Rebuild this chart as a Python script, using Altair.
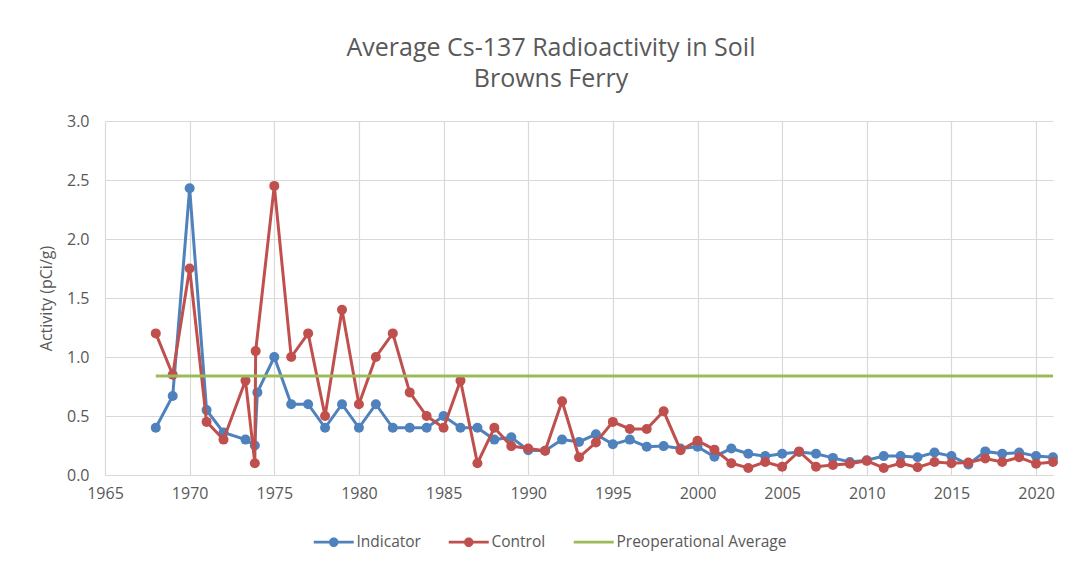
import altair as alt
import pandas as pd

# ---------------- data ----------------
series_names = ["Indicator", "Control", "Preoperational Average"]
series_colors = ["#4F81BD", "#C0504D", "#9BBB59"]

ind_years = [1968, 1969, 1970, 1971, 1972, 1973.3, 1973.85, 1974, 1975,
             1976, 1977, 1978, 1979, 1980, 1981, 1982, 1983, 1984, 1985,
             1986, 1987, 1988, 1989, 1990, 1991, 1992, 1993, 1994, 1995,
             1996, 1997, 1998, 1999, 2000, 2001, 2002, 2003, 2004, 2005,
             2006, 2007, 2008, 2009, 2010, 2011, 2012, 2013, 2014, 2015,
             2016, 2017, 2018, 2019, 2020, 2021]
ind_vals = [0.40, 0.67, 2.43, 0.55, 0.36, 0.30, 0.25, 0.70, 1.00,
            0.60, 0.60, 0.40, 0.60, 0.40, 0.60, 0.40, 0.40, 0.40, 0.50,
            0.40, 0.40, 0.30, 0.32, 0.21, 0.205, 0.30, 0.28, 0.345, 0.26,
            0.30, 0.24, 0.245, 0.225, 0.24, 0.155, 0.225, 0.18, 0.16, 0.18,
            0.195, 0.18, 0.145, 0.11, 0.125, 0.16, 0.16, 0.15, 0.19, 0.16,
            0.09, 0.20, 0.18, 0.19, 0.16, 0.15]

ctl_years = [1968, 1969, 1970, 1971, 1972, 1973.3, 1973.85, 1973.9, 1975,
             1976, 1977, 1978, 1979, 1980, 1981, 1982, 1983, 1984, 1985,
             1986, 1987, 1988, 1989, 1990, 1991, 1992, 1993, 1994, 1995,
             1996, 1997, 1998, 1999, 2000, 2001, 2002, 2003, 2004, 2005,
             2006, 2007, 2008, 2009, 2010, 2011, 2012, 2013, 2014, 2015,
             2016, 2017, 2018, 2019, 2020, 2021]
ctl_vals = [1.20, 0.85, 1.75, 0.45, 0.30, 0.80, 0.10, 1.05, 2.45,
            1.00, 1.20, 0.50, 1.40, 0.60, 1.00, 1.20, 0.70, 0.50, 0.40,
            0.80, 0.10, 0.40, 0.245, 0.225, 0.205, 0.625, 0.15, 0.275, 0.45,
            0.39, 0.39, 0.54, 0.21, 0.29, 0.215, 0.10, 0.06, 0.11, 0.07,
            0.20, 0.07, 0.085, 0.095, 0.12, 0.06, 0.10, 0.065, 0.11, 0.10,
            0.105, 0.14, 0.11, 0.15, 0.095, 0.11]

preop_years = [1968, 2021]
preop_vals = [0.84, 0.84]

x_ticks = [1965, 1970, 1975, 1980, 1985, 1990, 1995, 2000, 2005, 2010, 2015, 2020]
y_ticks = [0.0, 0.5, 1.0, 1.5, 2.0, 2.5, 3.0]

title_lines = ["Average Cs-137 Radioactivity in Soil", "Browns Ferry"]
y_title = "Activity (pCi/g)"

# ---------------- build tables ----------------
df = pd.concat([
    pd.DataFrame({"year": ind_years, "value": ind_vals, "series": "Indicator"}),
    pd.DataFrame({"year": ctl_years, "value": ctl_vals, "series": "Control"}),
    pd.DataFrame({"year": preop_years, "value": preop_vals, "series": "Preoperational Average"}),
], ignore_index=True)

FONT = "Open Sans"
TXT = "#595959"
GRID = "#D9D9D9"
COL = dict(zip(series_names, series_colors))

x_enc = alt.X("year:Q",
              scale=alt.Scale(domain=[1965, 2021], nice=False, zero=False),
              axis=alt.Axis(values=x_ticks, format="d", title=None, grid=True,
                            gridColor=GRID, gridWidth=1.2, ticks=False,
                            domainColor=GRID, domainWidth=1.2,
                            labelFont=FONT, labelFontSize=16, labelColor=TXT,
                            labelPadding=10, labelFlush=False))
y_enc = alt.Y("value:Q",
              scale=alt.Scale(domain=[0, 3], nice=False),
              axis=alt.Axis(values=y_ticks, format=".1f", title=y_title, grid=True,
                            gridColor=GRID, gridWidth=1.2, ticks=False, domain=False,
                            labelFont=FONT, labelFontSize=16, labelColor=TXT,
                            labelPadding=16,
                            titleFont=FONT, titleFontSize=16, titleColor=TXT,
                            titleFontWeight="normal", titlePadding=12))

base = alt.Chart(df)


def only(name):
    return base.transform_filter(alt.datum.series == name)


line_ind = only("Indicator").mark_line(strokeWidth=3, color=COL["Indicator"]).encode(x=x_enc, y=y_enc)
pts_ind = only("Indicator").mark_circle(size=100, opacity=1, color=COL["Indicator"]).encode(x=x_enc, y=y_enc)
line_ctl = only("Control").mark_line(strokeWidth=3, color=COL["Control"]).encode(x=x_enc, y=y_enc)
pts_ctl = only("Control").mark_circle(size=100, opacity=1, color=COL["Control"]).encode(x=x_enc, y=y_enc)
line_pre = only("Preoperational Average").mark_line(
    strokeWidth=3, color=COL["Preoperational Average"]).encode(x=x_enc, y=y_enc)

# legend symbols: a line with a marker, or a plain line
sym_marker = ("M-4,-0.28L4,-0.28L4,0.28L-4,0.28Z "
              "M-0.95,0A0.95,0.95,0,1,1,0.95,0A0.95,0.95,0,1,1,-0.95,0Z")
sym_line = "M-4,-0.28L4,-0.28L4,0.28L-4,0.28Z"

legend_props = dict(orient="none", legendX=207, legendY=413, direction="horizontal",
                    title=None, labelFont=FONT, labelFontSize=15.5, labelColor=TXT,
                    labelLimit=400,
                    symbolSize=100, symbolOffset=14, labelOffset=15, symbolStrokeWidth=0,
                    columnPadding=26, padding=0, symbolOpacity=1)

legend_layer = alt.Chart(pd.DataFrame({"series": series_names})).transform_filter(
    "false"
).mark_point(filled=True, opacity=1).encode(
    color=alt.Color("series:N", scale=alt.Scale(domain=series_names, range=series_colors),
                    legend=alt.Legend(**legend_props)),
    shape=alt.Shape("series:N",
                    scale=alt.Scale(domain=series_names, range=[sym_marker, sym_marker, sym_line]),
                    legend=alt.Legend(**legend_props)),
)

chart = alt.layer(line_ind, pts_ind, line_ctl, pts_ctl, line_pre, legend_layer).properties(
    width=948, height=354,
    title=alt.TitleParams(text=title_lines, font=FONT, fontSize=25, fontWeight="normal",
                          color=TXT, anchor="middle", dx=-28, offset=21, lineHeight=31),
    autosize=alt.AutoSizeParams(type="none"),
    padding={"left": 97, "top": 113, "right": 22, "bottom": 82},
).configure_view(stroke=None)

chart.save("out.html", embed_options={"renderer": "svg", "actions": False})
